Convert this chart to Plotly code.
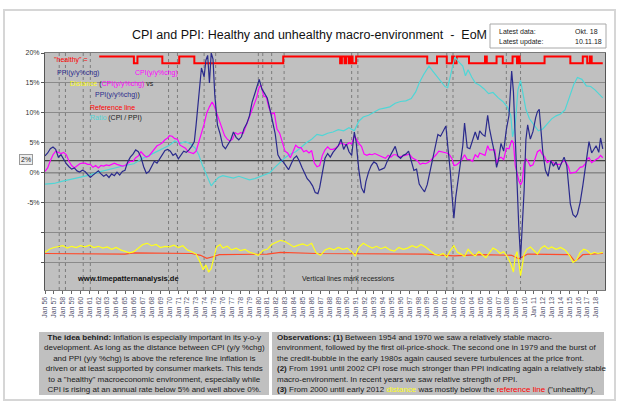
#!/usr/bin/env python3
"""CPI and PPI: healthy and unhealthy macro-environment (EoM) — Plotly rebuild."""
import plotly.graph_objects as go

# ---------------------------------------------------------------- data (decimal years, %)
PPI_X = [1956.0, 1956.3, 1956.6, 1956.9, 1957.2, 1957.5, 1957.8, 1958.1, 1958.4, 1958.7,
         1959.0, 1959.3, 1959.6, 1959.9, 1960.2, 1960.5, 1960.8, 1961.1, 1961.4, 1961.7,
         1962.0, 1962.3, 1962.6, 1962.9, 1963.2, 1963.5, 1963.8, 1964.1, 1964.4, 1964.7,
         1965.0, 1965.3, 1965.6, 1965.9, 1966.2, 1966.5, 1966.8, 1967.1, 1967.4, 1967.7,
         1968.0, 1968.3, 1968.6, 1968.9, 1969.2, 1969.5, 1969.8, 1970.1, 1970.4, 1970.7,
         1971.0, 1971.3, 1971.6, 1971.9, 1972.2, 1972.5, 1972.8, 1973.0, 1973.3, 1973.6,
         1973.9, 1974.1, 1974.3, 1974.5, 1974.7, 1974.9, 1975.1, 1975.4, 1975.7, 1976.0,
         1976.3, 1976.6, 1976.9, 1977.2, 1977.5, 1977.8, 1978.1, 1978.4, 1978.7, 1979.0,
         1979.3, 1979.6, 1979.9, 1980.1, 1980.4, 1980.7, 1981.0, 1981.3, 1981.6, 1981.9,
         1982.2, 1982.5, 1982.8, 1983.1, 1983.4, 1983.7, 1984.0, 1984.3, 1984.6, 1984.9,
         1985.2, 1985.5, 1985.8, 1986.1, 1986.4, 1986.7, 1986.9, 1987.2, 1987.5, 1987.8,
         1988.1, 1988.4, 1988.7, 1989.0, 1989.3, 1989.6, 1989.9, 1990.2, 1990.5, 1990.8,
         1991.0, 1991.3, 1991.6, 1991.9, 1992.1, 1992.4, 1992.7, 1993.0, 1993.3, 1993.6,
         1993.9, 1994.2, 1994.5, 1994.8, 1995.1, 1995.4, 1995.7, 1996.0, 1996.3, 1996.6,
         1996.9, 1997.2, 1997.5, 1997.8, 1998.1, 1998.4, 1998.7, 1999.0, 1999.3, 1999.6,
         1999.9, 2000.2, 2000.5, 2000.8, 2001.1, 2001.3, 2001.6, 2001.8, 2002.0, 2002.2,
         2002.5, 2002.8, 2003.0, 2003.2, 2003.5, 2003.8, 2004.1, 2004.4, 2004.7, 2004.9,
         2005.2, 2005.5, 2005.8, 2006.0, 2006.3, 2006.6, 2006.8, 2007.0, 2007.3, 2007.6,
         2007.9, 2008.2, 2008.5, 2008.7, 2008.9, 2009.1, 2009.3, 2009.5, 2009.7, 2009.9,
         2010.1, 2010.3, 2010.6, 2010.9, 2011.2, 2011.4, 2011.6, 2011.8, 2012.0, 2012.3,
         2012.6, 2012.9, 2013.2, 2013.5, 2013.8, 2014.1, 2014.4, 2014.7, 2014.9, 2015.1,
         2015.4, 2015.7, 2015.9, 2016.2, 2016.5, 2016.8, 2017.0, 2017.2, 2017.5, 2017.8,
         2018.0, 2018.3, 2018.5, 2018.75]
PPI_Y = [2.8, 3.3, 4.0, 4.3, 3.9, 2.6, 3.0, 2.2, 1.5, 1.0,
         0.6, 0.8, 0.3, 0.1, 0.4, 0.2, -0.3, -0.8, -0.4, 0.0,
         0.3, -0.2, -0.6, -0.3, -0.8, -0.2, -0.5, 0.1, -0.4, 0.2,
         0.4, 1.8, 2.6, 3.1, 3.8, 3.5, 2.6, 1.0, -0.1, 0.2,
         1.2, 1.9, 1.6, 2.3, 3.2, 3.7, 3.9, 3.6, 2.9, 3.2,
         2.3, 2.9, 3.6, 3.4, 3.8, 4.4, 5.2, 8.0, 13.0, 17.5,
         16.0, 18.8, 19.6, 15.0, 20.0, 19.0, 13.0, 8.0, 6.5, 4.5,
         4.0, 4.8, 5.5, 6.8, 5.9, 5.5, 6.0, 7.4, 8.2, 9.5,
         11.8, 13.2, 14.8, 15.6, 14.0, 13.3, 12.5, 10.6, 8.8, 6.5,
         3.0, 2.2, 1.8, 1.2, 0.5, 1.5, 2.4, 2.8, 2.0, 0.9,
         -0.2, -1.0, -1.5, -2.2, -3.3, -3.5, -2.5, 0.3, 2.4, 3.2,
         2.6, 3.4, 4.0, 4.5, 5.6, 3.9, 4.8, 3.5, 2.9, 6.8,
         5.2, 0.5, -2.5, -3.4, -1.5, 0.1, 1.2, 1.8, 1.5, 0.4,
         0.6, 0.8, 1.9, 2.8, 3.6, 4.4, 2.8, 2.4, 2.9, 3.1,
         3.6, 1.8, 0.4, 0.6, -1.9, -2.6, -3.2, -2.0, 0.2, 2.2,
         4.6, 6.4, 6.1, 7.0, 7.8, 4.6, 0.2, -4.0, -7.6, -4.2,
         -1.2, 1.8, 4.5, 8.3, 4.2, 4.0, 5.3, 6.8, 5.5, 7.0,
         6.4, 6.1, 9.6, 7.4, 5.2, 3.1, 0.9, 2.0, 4.9, 3.6,
         7.2, 9.6, 17.0, 13.5, 6.0, -3.2, -9.0, -14.3, -9.5, -3.0,
         5.5, 8.0, 5.6, 6.9, 9.2, 10.2, 10.6, 7.1, 3.5, 0.4,
         -0.6, 2.0, 1.1, 1.8, 0.5, 1.6, 2.6, 1.2, -1.9, -5.2,
         -7.0, -7.4, -6.9, -5.0, -2.2, 0.8, 2.8, 5.2, 3.3, 4.1,
         4.5, 3.4, 5.8, 4.0]

CPI_X = [1956.0, 1956.3, 1956.6, 1956.9, 1957.2, 1957.5, 1957.8, 1958.1, 1958.4, 1958.7,
         1959.0, 1959.3, 1959.6, 1959.9, 1960.2, 1960.5, 1960.8, 1961.1, 1961.4, 1961.7,
         1962.0, 1962.3, 1962.6, 1962.9, 1963.2, 1963.5, 1963.8, 1964.1, 1964.4, 1964.7,
         1965.0, 1965.3, 1965.6, 1965.9, 1966.2, 1966.5, 1966.8, 1967.1, 1967.4, 1967.7,
         1968.0, 1968.3, 1968.6, 1968.9, 1969.2, 1969.5, 1969.8, 1970.0, 1970.3, 1970.6,
         1970.9, 1971.2, 1971.5, 1971.8, 1972.1, 1972.4, 1972.7, 1973.0, 1973.3, 1973.6,
         1973.9, 1974.2, 1974.5, 1974.8, 1975.0, 1975.3, 1975.6, 1975.9, 1976.2, 1976.5,
         1976.8, 1977.1, 1977.4, 1977.7, 1978.0, 1978.3, 1978.6, 1978.9, 1979.2, 1979.5,
         1979.8, 1980.1, 1980.3, 1980.6, 1980.9, 1981.2, 1981.5, 1981.8, 1982.1, 1982.4,
         1982.7, 1983.0, 1983.3, 1983.6, 1983.9, 1984.2, 1984.5, 1984.8, 1985.1, 1985.4,
         1985.7, 1986.0, 1986.3, 1986.6, 1986.9, 1987.2, 1987.5, 1987.8, 1988.1, 1988.4,
         1988.7, 1989.0, 1989.3, 1989.6, 1989.9, 1990.2, 1990.5, 1990.8, 1991.0, 1991.3,
         1991.6, 1991.9, 1992.2, 1992.5, 1992.8, 1993.1, 1993.4, 1993.7, 1994.0, 1994.3,
         1994.6, 1994.9, 1995.2, 1995.5, 1995.8, 1996.1, 1996.4, 1996.7, 1997.0, 1997.3,
         1997.6, 1997.9, 1998.2, 1998.5, 1998.8, 1999.1, 1999.4, 1999.7, 2000.0, 2000.3,
         2000.6, 2000.9, 2001.2, 2001.5, 2001.8, 2002.0, 2002.3, 2002.6, 2002.9, 2003.2,
         2003.5, 2003.8, 2004.1, 2004.4, 2004.7, 2004.9, 2005.2, 2005.5, 2005.8, 2006.0,
         2006.3, 2006.6, 2006.8, 2007.0, 2007.3, 2007.6, 2007.9, 2008.2, 2008.5, 2008.7,
         2008.9, 2009.1, 2009.3, 2009.5, 2009.7, 2009.9, 2010.1, 2010.3, 2010.6, 2010.9,
         2011.2, 2011.4, 2011.7, 2011.9, 2012.2, 2012.5, 2012.8, 2013.1, 2013.4, 2013.7,
         2014.0, 2014.3, 2014.6, 2014.9, 2015.1, 2015.4, 2015.7, 2015.9, 2016.2, 2016.5,
         2016.8, 2017.0, 2017.2, 2017.5, 2017.8, 2018.0, 2018.3, 2018.5, 2018.75]
CPI_Y = [0.2, 0.8, 2.0, 3.0, 3.6, 3.4, 3.2, 3.4, 3.0, 1.9,
         1.2, 0.8, 1.1, 1.5, 1.6, 1.6, 1.4, 1.4, 0.9, 1.2,
         0.8, 1.2, 1.1, 1.3, 1.2, 1.4, 1.6, 1.4, 1.2, 1.1,
         1.2, 1.6, 1.9, 1.9, 2.5, 2.8, 3.5, 3.0, 2.6, 2.8,
         3.4, 3.9, 4.5, 4.7, 5.0, 5.5, 5.8, 6.2, 6.1, 5.7,
         5.6, 4.6, 4.3, 4.1, 3.5, 3.3, 3.2, 3.6, 5.3, 6.6,
         8.1, 10.0, 11.0, 11.8, 11.3, 10.0, 8.6, 7.3, 6.2, 5.6,
         5.3, 5.6, 6.7, 6.4, 6.7, 6.6, 7.8, 8.9, 10.1, 11.2,
         12.5, 14.3, 14.6, 12.8, 12.6, 10.8, 9.8, 10.0, 7.3, 6.6,
         5.0, 3.6, 3.3, 2.5, 3.5, 4.6, 4.2, 4.2, 3.5, 3.7,
         3.3, 3.7, 1.6, 1.0, 1.2, 2.9, 3.8, 4.3, 3.9, 3.9,
         4.1, 4.6, 5.0, 4.8, 4.6, 5.0, 4.8, 6.2, 5.7, 4.9,
         4.4, 3.1, 2.9, 3.1, 3.0, 3.2, 3.0, 2.8, 2.7, 2.4,
         2.9, 2.6, 3.0, 3.0, 2.6, 2.7, 2.9, 3.0, 3.1, 2.5,
         2.2, 2.0, 1.4, 1.6, 1.5, 1.7, 2.1, 2.5, 3.0, 3.6,
         3.5, 3.4, 3.3, 3.0, 2.3, 1.2, 1.3, 1.7, 2.2, 3.0,
         2.2, 2.2, 1.9, 3.0, 2.6, 3.3, 3.1, 2.9, 4.5, 3.8,
         3.8, 3.8, 1.5, 2.3, 2.6, 2.2, 4.1, 4.0, 5.4, 5.0,
         1.2, -0.1, -1.3, -2.0, -1.4, 1.6, 2.3, 2.0, 1.1, 1.3,
         2.5, 3.5, 3.8, 3.2, 2.7, 1.7, 2.0, 1.8, 1.4, 1.4,
         1.4, 2.0, 1.8, 0.9, -0.1, 0.0, 0.1, 0.4, 0.9, 1.0,
         1.5, 2.3, 2.5, 1.7, 2.1, 2.2, 2.5, 2.9, 2.5]

RATIO_X = [1956.0, 1957.0, 1958.0, 1959.0, 1960.0, 1961.0, 1962.0, 1963.0, 1964.0, 1965.0,
           1966.0, 1967.0, 1968.0, 1969.0, 1970.0, 1970.6, 1971.2, 1971.8, 1972.4, 1972.9,
           1973.3, 1973.7, 1974.0, 1974.4, 1974.7, 1975.0, 1975.5, 1976.0, 1976.6, 1977.2,
           1977.8, 1978.4, 1979.0, 1979.6, 1980.2, 1980.8, 1981.3, 1981.8, 1982.4, 1983.0,
           1983.6, 1984.2, 1984.8, 1985.4, 1986.0, 1986.6, 1987.2, 1987.8, 1988.4, 1989.0,
           1989.6, 1990.2, 1990.8, 1991.3, 1991.8, 1992.4, 1993.0, 1993.6, 1994.2, 1994.8,
           1995.4, 1996.0, 1996.6, 1997.2, 1997.7, 1998.1, 1998.6, 1999.2, 1999.6, 2000.0,
           2000.5, 2001.0, 2001.3, 2001.7, 2002.1, 2002.5, 2003.0, 2003.3, 2003.6, 2004.0,
           2004.4, 2004.9, 2005.4, 2005.9, 2006.4, 2007.0, 2007.5, 2008.0, 2008.4, 2008.6,
           2008.9, 2009.2, 2009.5, 2009.8, 2010.1, 2010.5, 2011.0, 2011.5, 2012.0, 2012.5,
           2013.0, 2013.5, 2014.0, 2014.5, 2015.0, 2015.5, 2015.9, 2016.4, 2016.9, 2017.4,
           2017.9, 2018.3, 2018.75]
RATIO_Y = [-1.9, -1.8, -1.4, -1.1, -0.8, -0.4, 0.1, 0.5, 0.9, 1.2,
           1.5, 2.4, 3.1, 3.9, 4.6, 5.3, 4.9, 5.2, 4.8, 4.1,
           3.0, 1.3, 0.2, -1.2, -2.2, -1.6, -0.8, -0.5, -0.7, -0.9,
           -0.6, -0.9, -1.2, -1.0, -0.6, -0.3, 0.0, 0.8, 1.6, 2.5,
           3.1, 3.5, 4.2, 5.0, 5.6, 6.4, 6.2, 6.6, 6.8, 7.2,
           7.0, 7.5, 7.0, 8.6, 9.3, 9.6, 10.1, 10.6, 10.8, 11.0,
           11.6, 11.9, 12.0, 12.4, 13.5, 15.0, 16.4, 17.8, 17.0, 16.2,
           15.4, 14.4, 14.2, 16.5, 19.3, 18.6, 17.8, 16.2, 17.2, 16.0,
           15.0, 14.6, 14.0, 13.2, 13.4, 12.5, 11.9, 11.0, 9.6, 6.0,
           8.0, 13.8, 15.4, 13.0, 10.6, 9.0, 8.0, 7.0, 7.3, 8.2,
           9.0, 9.5, 9.8, 10.5, 12.5, 14.8, 15.9, 15.6, 14.5, 14.4,
           13.8, 13.2, 12.5]

DIST_X = [1956.0, 1956.5, 1957.0, 1957.5, 1958.0, 1958.5, 1959.0, 1959.5, 1960.0, 1960.5,
          1961.0, 1961.5, 1962.0, 1962.5, 1963.0, 1963.5, 1964.0, 1964.5, 1965.0, 1965.5,
          1966.0, 1966.5, 1967.0, 1967.5, 1968.0, 1968.5, 1969.0, 1969.5, 1970.0, 1970.5,
          1971.0, 1971.5, 1972.0, 1972.5, 1973.0, 1973.4, 1973.8, 1974.1, 1974.4, 1974.7,
          1975.0, 1975.3, 1975.7, 1976.0, 1976.5, 1977.0, 1977.5, 1978.0, 1978.5, 1979.0,
          1979.5, 1980.0, 1980.5, 1981.0, 1981.5, 1982.0, 1982.5, 1983.0, 1983.5, 1984.0,
          1984.5, 1985.0, 1985.5, 1986.0, 1986.5, 1987.0, 1987.5, 1988.0, 1988.5, 1989.0,
          1989.5, 1990.0, 1990.5, 1990.9, 1991.3, 1991.8, 1992.3, 1992.8, 1993.3, 1993.8,
          1994.3, 1994.8, 1995.3, 1995.8, 1996.3, 1996.8, 1997.3, 1997.8, 1998.3, 1998.8,
          1999.3, 1999.8, 2000.3, 2000.8, 2001.2, 2001.6, 2002.0, 2002.4, 2002.8, 2003.2,
          2003.6, 2004.0, 2004.4, 2004.8, 2005.2, 2005.6, 2006.0, 2006.4, 2006.8, 2007.2,
          2007.6, 2008.0, 2008.4, 2008.7, 2008.9, 2009.1, 2009.3, 2009.5, 2009.7, 2009.9,
          2010.2, 2010.6, 2011.0, 2011.4, 2011.8, 2012.2, 2012.6, 2013.0, 2013.5, 2014.0,
          2014.5, 2015.0, 2015.4, 2015.8, 2016.2, 2016.6, 2017.0, 2017.4, 2017.8, 2018.2,
          2018.75]
DIST_Y = [-13.3, -12.8, -12.5, -12.4, -12.2, -12.6, -12.3, -12.5, -12.2, -12.4,
          -12.1, -12.5, -12.3, -12.6, -12.4, -12.8, -12.5, -12.9, -13.2, -13.4,
          -13.2, -12.6, -12.0, -11.8, -12.2, -12.0, -12.5, -12.3, -12.4, -12.1,
          -12.5, -12.2, -12.9, -13.2, -13.6, -14.8, -16.2, -15.4, -16.6, -16.0,
          -14.2, -12.4, -12.0, -12.6, -12.3, -12.9, -12.6, -13.0, -12.8, -13.3,
          -13.5, -13.8, -13.0, -12.8, -12.0, -11.6, -11.3, -11.5, -12.0, -12.4,
          -12.1, -11.9, -12.2, -11.8, -13.4, -13.8, -12.9, -12.6, -12.9, -12.5,
          -12.8, -12.6, -13.2, -13.9, -12.5, -11.8, -12.2, -12.6, -12.3, -12.7,
          -12.4, -12.9, -13.1, -12.5, -12.8, -12.6, -12.2, -12.5, -12.0, -12.4,
          -13.0, -13.6, -13.8, -13.5, -14.1, -13.0, -12.2, -13.3, -13.6, -14.0,
          -12.8, -13.5, -13.9, -13.2, -13.7, -14.2, -13.4, -12.6, -12.9, -13.5,
          -13.2, -14.0, -15.2, -16.6, -14.0, -13.2, -15.0, -17.2, -15.5, -13.6,
          -12.8, -12.4, -13.0, -13.6, -12.6, -12.2, -12.7, -12.4, -12.8, -12.5,
          -12.9, -13.8, -15.0, -14.6, -13.3, -12.8, -13.0, -13.6, -13.3, -13.5,
          -13.3]

REF_X = [1956.0, 1965.0, 1966.0, 1972.5, 1973.5, 1974.2, 1975.0, 1975.6, 1981.0, 1982.5,
         1986.5, 1999.0, 2002.0, 2005.0, 2008.5, 2009.3, 2009.8, 2010.3, 2015.0, 2015.6,
         2016.0, 2016.5, 2018.75]
REF_Y = [-13.5, -13.6, -13.4, -13.5, -13.8, -14.3, -14.0, -13.7, -13.6, -13.3,
         -13.5, -13.6, -13.9, -13.7, -13.8, -14.4, -14.0, -13.6, -13.7, -14.8,
         -14.4, -13.7, -13.5]

# "healthy" indicator: switch dates and state (1 = healthy, 0 = unhealthy)
HEALTHY_X = [1962.1, 1966.0, 1966.4, 1969.2, 1971.1, 1972.8, 1982.8, 1989.2, 1989.4, 1989.7,
             1989.9, 1990.2, 1990.4, 1990.6, 1991.0, 1999.0, 2000.1, 2001.2, 2001.8, 2002.0,
             2002.3, 2003.7, 2005.5, 2005.7, 2006.8, 2007.5, 2008.6, 2009.1, 2009.2, 2009.4,
             2012.2, 2015.1, 2016.5, 2017.0, 2017.3, 2017.5, 2018.75]
HEALTHY_S = [1, 0, 1, 0, 1, 0, 1, 0, 1, 0,
             1, 0, 1, 0, 1, 0, 1, 0, 1, 0,
             1, 0, 1, 0, 1, 0, 1, 0, 1, 0,
             1, 0, 1, 0, 1, 0, 0]
HEALTHY_HI, HEALTHY_LO = 19.4, 18.3

# NBER recessions (start, end)
RECESSIONS = [(1957.6, 1958.3), (1960.3, 1961.1), (1969.9, 1970.9), (1973.9, 1975.2),
              (1980.0, 1980.5), (1981.5, 1982.9), (1990.5, 1991.2), (2001.2, 2001.9),
              (2007.9, 2009.5)]

YEARS = list(range(1956, 2019))
XTICK_TEXT = [f"Jan {y % 100:02d}" for y in YEARS]
YTICK_VALS = [20, 15, 10, 5, 0, -5, -10, -15]
YTICK_TEXT = ["20%", "15%", "10%", "5%", "0%", "-5%", "", ""]

# ---------------------------------------------------------------- geometry helpers (pixels)
W, H = 620, 407
PL, PR, PT, PB = 45, 605, 53, 290


def px(x):
    return (x - PL) / (PR - PL)


def py(y):
    return (PB - y) / (PB - PT)


NAVY, MAGENTA, CYAN, YELLOW, REFRED, RED = "#2a2a8c", "#ff00ff", "#4fd6d6", "#ffff1a", "#ff4a2a", "#ff0000"
FONT = "Liberation Sans, Arial, sans-serif"

fig = go.Figure()
fig.add_trace(go.Scatter(x=HEALTHY_X, y=[HEALTHY_HI if s else HEALTHY_LO for s in HEALTHY_S],
                         mode="lines", line=dict(color=RED, width=2, shape="hv")))
fig.add_trace(go.Scatter(x=RATIO_X, y=RATIO_Y, mode="lines", line=dict(color=CYAN, width=1.2)))
fig.add_trace(go.Scatter(x=REF_X, y=REF_Y, mode="lines", line=dict(color=REFRED, width=1.2)))
fig.add_trace(go.Scatter(x=DIST_X, y=DIST_Y, mode="lines", line=dict(color=YELLOW, width=1.2)))
fig.add_trace(go.Scatter(x=CPI_X, y=CPI_Y, mode="lines", line=dict(color=MAGENTA, width=1.2)))
fig.add_trace(go.Scatter(x=PPI_X, y=PPI_Y, mode="lines", line=dict(color=NAVY, width=1.2)))

shapes = []
# outer frame + info box
shapes.append(dict(type="rect", xref="paper", yref="paper", x0=px(4), x1=px(615), y0=py(10), y1=py(400),
                   line=dict(color="#d6d6d6", width=2), fillcolor="rgba(0,0,0,0)", layer="below"))
shapes.append(dict(type="rect", xref="paper", yref="paper", x0=px(490), x1=px(606), y0=py(24), y1=py(48),
                   line=dict(color="#a8a8a8", width=1), fillcolor="white"))
# cover the grid behind the legend text
shapes.append(dict(type="rect", xref="paper", yref="paper", x0=0, x1=px(186), y0=py(125), y1=py(68),
                   line=dict(width=0), fillcolor="#c0c0c0", layer="between"))
# recession lines
for a, b in RECESSIONS:
    for xv in (a, b):
        shapes.append(dict(type="line", xref="x", yref="paper", x0=xv, x1=xv, y0=0, y1=1,
                           line=dict(color="#7c7c7c", width=1, dash="dot"), layer="between"))
# 0% and 2% reference lines
for yv in (0, 2):
    shapes.append(dict(type="line", xref="paper", yref="y", x0=0, x1=1, y0=yv, y1=yv,
                       line=dict(color="#202020", width=1), layer="between"))
# text boxes at the bottom
shapes.append(dict(type="rect", xref="paper", yref="paper", x0=px(39), x1=px(269), y0=py(395), y1=py(332),
                   line=dict(width=0), fillcolor="#c0c0c0"))
shapes.append(dict(type="rect", xref="paper", yref="paper", x0=px(272), x1=px(604), y0=py(395), y1=py(332),
                   line=dict(width=0), fillcolor="#c0c0c0"))

ann = []


def txt(x, y, s, size=7, color="#1a1a1a", xanchor="left", yanchor="middle", align="left", **kw):
    ann.append(dict(x=px(x), y=py(y), xref="paper", yref="paper", text=s, showarrow=False,
                    xanchor=xanchor, yanchor=yanchor, align=align,
                    font=dict(family=FONT, size=size, color=color), **kw))


txt(130, 35, "CPI and PPI: Healthy and unhealthy macro-environment  -  EoM", size=12.5, color="#111")
txt(497, 31, "Latest data:")
txt(573, 31, "Okt. 18")
txt(497, 42, "Latest update:")
txt(573, 42, "10.11.18")

# legend block
txt(52, 60, "\"healthy\" =", size=7, color=RED)
txt(55, 73, "PPI(y/y%chg)", color=NAVY)
txt(133, 73, "CPI(y/y%chg)", color=MAGENTA)
txt(68, 84, f"<span style='color:{YELLOW}'>Distance</span> (<span style='color:{MAGENTA}'>CPI(y/y%chg)</span> vs")
txt(93, 95, f"<span style='color:{NAVY}'>PPI(y/y%chg)</span>)")
txt(88, 107, "Reference line", color=RED)
txt(88, 118, f"<span style='color:{CYAN}'>Ratio</span> (CPI / PPI)")

txt(75, 278, "<b>www.timepatternanalysis.de</b>", size=7.5, color="#111")
txt(300, 278, "Vertical lines mark recessions", size=7, color="#222")
txt(26, 159, "2%", size=7, color="#222", xanchor="center", bgcolor="#eeeeee",
    bordercolor="#9a9a9a", borderwidth=1, borderpad=1)

left_text = ("<b>The idea behind:</b> Inflation is especially important in its y-o-y<br>"
             "development. As long as the distance between CPI (y/y %chg)<br>"
             "and PPI (y/y %chg) is above the reference line inflation is<br>"
             "driven or at least supported by consumer markets. This tends<br>"
             "to a \"healthy\" macroeconomic environment, especially while<br>"
             "CPI is rising at an annual rate below 5% and well above 0%.")
txt(154, 363.5, left_text, size=8, xanchor="center", align="center")

right_text = ("<b>Observations: (1)</b> Between 1954 and 1970 we saw a relatively stable macro-<br>"
              "environment, followed by the first oil-price-shock. The second one in 1979 and the burst of<br>"
              "the credit-bubble in the early 1980s again caused severe turbulences at the price front.<br>"
              "<b>(2)</b> From 1991 until 2002 CPI rose much stronger than PPI indicating again a relatively stable<br>"
              "macro-environment. In recent years we saw relative strength of PPI.<br>"
              f"<b>(3)</b> From 2000 until early 2012 <span style='color:{YELLOW}'>distance</span> was mostly below the "
              f"<span style='color:{RED}'>reference line</span> (\"unhealthy\").")
txt(275, 363.5, right_text, size=8)

fig.update_layout(
    width=W, height=H, margin=dict(l=PL, r=W - PR, t=PT, b=H - PB),
    paper_bgcolor="white", plot_bgcolor="#c0c0c0", showlegend=False,
    font=dict(family=FONT, size=7, color="#333"),
    shapes=shapes, annotations=ann,
    xaxis=dict(range=[1956.0, 2019.0], tickmode="array", tickvals=YEARS, ticktext=XTICK_TEXT,
               tickangle=-90, tickfont=dict(size=7, color="#55556e"), ticks="outside", ticklen=3,
               tickcolor="#666", showgrid=False, zeroline=False, showline=True, linecolor="#7a7a7a",
               mirror=True),
    yaxis=dict(range=[-19.6, 20], tickmode="array", tickvals=YTICK_VALS, ticktext=YTICK_TEXT,
               tickfont=dict(size=7, color="#333"), ticks="outside", ticklen=3, tickcolor="#555",
               showgrid=True, gridcolor="#8a8a8a", gridwidth=1, zeroline=False, showline=True,
               linecolor="#555", mirror=True),
)

fig.write_html("out.html", config={"displayModeBar": False},
               post_script="document.body.style.margin='0';")
